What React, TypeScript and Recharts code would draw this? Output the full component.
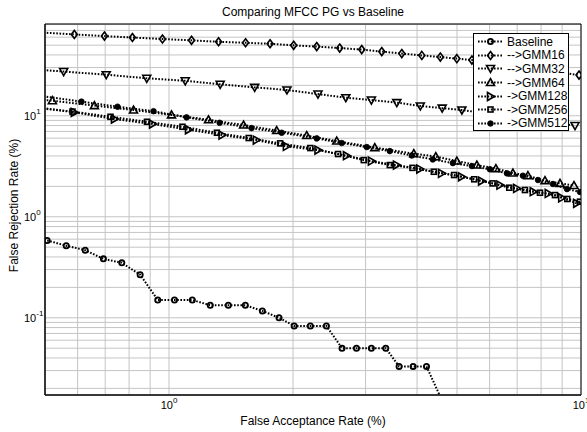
import { LineChart, Line, XAxis, YAxis, CartesianGrid, Legend, ReferenceArea, Label } from 'recharts';

const FONT = '"Liberation Sans", Arial, Helvetica, sans-serif';

const X_DOMAIN: [number, number] = [0.5, 10];
const Y_DOMAIN: [number, number] = [0.0172, 81];

const xTicks = [0.5, 0.6, 0.7, 0.8, 0.9, 1, 2, 3, 4, 5, 6, 7, 8, 9, 10];
const yTicks = [
    0.02, 0.03, 0.04, 0.05, 0.06, 0.07, 0.08, 0.09,
    0.1, 0.2, 0.3, 0.4, 0.5, 0.6, 0.7, 0.8, 0.9,
    1, 2, 3, 4, 5, 6, 7, 8, 9,
    10, 20, 30, 40, 50, 60, 70, 80,
];

// false acceptance (x) / false rejection (y), in %
const baselineFar = [0.506, 0.563, 0.626, 0.693, 0.768, 0.851, 0.939, 1.031, 1.139, 1.259, 1.393, 1.532, 1.685, 1.849, 2.013, 2.203, 2.41, 2.63, 2.851, 3.099, 3.358, 3.618, 3.913, 4.217, 4.55];
const baselineFrr = [0.583, 0.517, 0.467, 0.383, 0.35, 0.267, 0.15, 0.15, 0.15, 0.133, 0.133, 0.133, 0.117, 0.1, 0.083, 0.083, 0.083, 0.05, 0.05, 0.05, 0.05, 0.033, 0.033, 0.033, 0.0167];

const gmm16Far = [0.47, 0.589, 0.697, 0.815, 0.964, 1.134, 1.319, 1.534, 1.759, 2.007, 2.283, 2.596, 2.936, 3.284, 3.673, 4.108, 4.556, 4.996, 5.435, 9.89];
const gmm16Frr = [67.4, 63.9, 61.5, 59.5, 57.5, 55.8, 54.0, 52.8, 51.6, 49.8, 48.4, 46.8, 45.2, 43.2, 41.3, 39.6, 38.1, 36.8, 35.6, 25.3];

const gmm32Far = [0.47, 0.555, 0.704, 0.883, 1.095, 1.331, 1.614, 1.933, 2.299, 2.686, 3.099, 3.572, 4.074, 4.603, 5.139, 9.67];
const gmm32Frr = [28.8, 27.4, 25.5, 23.5, 22.2, 20.5, 19.1, 18.0, 16.4, 15.1, 14.3, 13.5, 12.5, 11.9, 11.4, 8.0];

const gmm64Far = [0.47, 0.521, 0.659, 0.82, 1.014, 1.247, 1.517, 1.825, 2.159, 2.553, 3.158, 3.928, 4.442, 4.996, 5.588, 6.215, 6.834, 7.433, 8.177, 8.892, 9.616];
const gmm64Frr = [14.6, 14.1, 12.6, 11.4, 10.2, 9.13, 8.09, 7.14, 6.37, 5.62, 4.84, 4.22, 3.94, 3.56, 3.25, 3.0, 2.71, 2.55, 2.28, 2.14, 2.04];

const gmm128Far = [0.47, 0.589, 0.737, 0.912, 1.115, 1.345, 1.629, 1.927, 2.299, 2.696, 3.099, 3.566, 4.062, 4.586, 5.13, 5.737, 6.357, 6.979, 7.657, 8.327, 8.978, 9.761];
const gmm128Frr = [12.3, 10.8, 9.28, 8.28, 7.27, 6.44, 5.75, 4.98, 4.58, 4.02, 3.56, 3.25, 2.97, 2.69, 2.49, 2.26, 2.06, 1.91, 1.77, 1.7, 1.54, 1.36];

const gmm256Far = [0.47, 0.583, 0.721, 0.884, 1.078, 1.307, 1.561, 1.861, 2.203, 2.572, 2.97, 3.435, 3.899, 4.393, 4.92, 5.506, 6.101, 6.696, 7.311, 7.951, 8.646, 9.262, 9.945];
const gmm256Frr = [12.0, 11.0, 9.77, 8.72, 7.78, 6.79, 6.02, 5.33, 4.79, 4.18, 3.64, 3.25, 3.05, 2.79, 2.59, 2.35, 2.14, 1.94, 1.84, 1.73, 1.64, 1.5, 1.41];

const gmm512Far = [0.47, 0.613, 0.75, 0.917, 1.103, 1.327, 1.586, 1.877, 2.283, 2.626, 3.02, 3.435, 3.885, 4.368, 4.886, 5.435, 6.01, 6.61, 7.23, 7.864, 8.551, 9.248, 9.945];
const gmm512Frr = [16.1, 13.8, 12.3, 11.1, 9.64, 8.52, 7.55, 6.79, 5.97, 5.37, 4.9, 4.47, 4.04, 3.7, 3.4, 3.18, 2.95, 2.69, 2.55, 2.31, 2.11, 1.88, 1.76];

type MarkerKind = 'circle' | 'diamond' | 'down' | 'up' | 'right' | 'square' | 'dot';

const toPoints = (far: number[], frr: number[]) => far.map((x, i) => ({ x, y: frr[i] }));

const series: { name: string; kind: MarkerKind; data: { x: number; y: number }[] }[] = [
    { name: 'Baseline', kind: 'circle', data: toPoints(baselineFar, baselineFrr) },
    { name: '-->GMM16', kind: 'diamond', data: toPoints(gmm16Far, gmm16Frr) },
    { name: '-->GMM32', kind: 'down', data: toPoints(gmm32Far, gmm32Frr) },
    { name: '-->GMM64', kind: 'up', data: toPoints(gmm64Far, gmm64Frr) },
    { name: '->GMM128', kind: 'right', data: toPoints(gmm128Far, gmm128Frr) },
    { name: '->GMM256', kind: 'square', data: toPoints(gmm256Far, gmm256Frr) },
    { name: '->GMM512', kind: 'dot', data: toPoints(gmm512Far, gmm512Frr) },
];

const Marker = ({ kind, cx, cy }: { kind: MarkerKind; cx: number; cy: number }) => {
    const st = { stroke: '#000', strokeWidth: 1.6, fill: 'none' };
    switch (kind) {
        case 'circle':
            return <circle cx={cx} cy={cy} r={2.6} {...st} strokeWidth={1.8} />;
        case 'diamond':
            return <polygon points={`${cx},${cy - 4} ${cx + 3},${cy} ${cx},${cy + 4} ${cx - 3},${cy}`} {...st} />;
        case 'down':
            return <polygon points={`${cx - 4},${cy - 3} ${cx + 4},${cy - 3} ${cx},${cy + 4}`} {...st} />;
        case 'up':
            return <polygon points={`${cx - 4},${cy + 3} ${cx + 4},${cy + 3} ${cx},${cy - 4}`} {...st} />;
        case 'right':
            return <polygon points={`${cx - 3},${cy - 4} ${cx - 3},${cy + 4} ${cx + 4},${cy}`} {...st} />;
        case 'square':
            return <rect x={cx - 2.5} y={cy - 2.5} width={5} height={5} {...st} />;
        default:
            return <circle cx={cx} cy={cy} r={2.8} fill="#000" stroke="#000" strokeWidth={0.8} />;
    }
};

// matlab style: markers of points outside the axes are not drawn
const makeDot = (kind: MarkerKind) => (props: any) => {
    const { cx, cy, payload, index } = props;
    const k = `${kind}-${index}`;
    if (cx == null || cy == null || payload.x < X_DOMAIN[0] || payload.x > X_DOMAIN[1] || payload.y < Y_DOMAIN[0] || payload.y > Y_DOMAIN[1]) {
        return <g key={k} />;
    }
    return (
        <g key={k}>
            <Marker kind={kind} cx={cx} cy={cy} />
        </g>
    );
};

const isDecade = (v: number) => Math.abs(Math.log10(v) - Math.round(Math.log10(v))) < 1e-9;

const XTick = ({ x, y, payload }: any) => {
    if (!isDecade(payload.value)) return <g />;
    const exp = Math.round(Math.log10(payload.value));
    return (
        <text x={x} y={y + 6} textAnchor="middle" fontFamily={FONT} fontSize={11} fill="#000">
            <tspan>10</tspan>
            <tspan dy={-6} fontSize={8}>{exp}</tspan>
        </text>
    );
};

const YTick = ({ x, y, payload }: any) => {
    if (!isDecade(payload.value)) return <g />;
    const exp = Math.round(Math.log10(payload.value));
    return (
        <text x={x - 13} y={y + 4} textAnchor="start" fontFamily={FONT} fontSize={11} fill="#000">
            <tspan>10</tspan>
            <tspan dy={-6} fontSize={8}>{exp < 0 ? `-${-exp}` : exp}</tspan>
        </text>
    );
};

const LegendBox = () => (
    <div style={{ background: '#fff', border: '1px solid #000', padding: '1px 4px 0 4px', width: 96, boxSizing: 'border-box' }}>
        {series.map(s => (
            <div key={s.name} style={{ display: 'flex', alignItems: 'center', height: 13.6, fontFamily: FONT, fontSize: 12, color: '#000', whiteSpace: 'nowrap' }}>
                <svg width={29} height={13} style={{ flex: 'none' }}>
                    <line x1={0} y1={6.5} x2={25} y2={6.5} stroke="#000" strokeWidth={2} strokeDasharray="1.6 1.6" />
                    <Marker kind={s.kind} cx={12.5} cy={6.5} />
                </svg>
                <span>{s.name}</span>
            </div>
        ))}
    </div>
);

const App = () => {
    return (
        <div style={{ position: 'absolute', left: 0, top: 0, width: 587, height: 432, background: '#fff' }}>
            <div style={{ position: 'absolute', left: 45, top: 5, width: 536, textAlign: 'center', fontFamily: FONT, fontSize: 12, lineHeight: '14px', color: '#000' }}>
                Comparing MFCC PG vs Baseline
            </div>
            <LineChart width={587} height={432} margin={{ top: 24, right: 6, bottom: 0, left: 0 }}>
                <CartesianGrid stroke="#c4c4c4" strokeWidth={1} />
                <XAxis
                    dataKey="x"
                    type="number"
                    scale="log"
                    domain={X_DOMAIN}
                    ticks={xTicks}
                    interval={0}
                    allowDataOverflow
                    height={37}
                    tickLine={false}
                    axisLine={{ stroke: '#000' }}
                    tick={<XTick />}
                >
                    <Label
                        content={(p: any) => {
                            const vb = p.viewBox;
                            return (
                                <text x={vb.x + vb.width / 2} y={vb.y + vb.height - 7} textAnchor="middle" fontFamily={FONT} fontSize={12} fill="#000">
                                    False Acceptance Rate (%)
                                </text>
                            );
                        }}
                    />
                </XAxis>
                <YAxis
                    dataKey="y"
                    type="number"
                    scale="log"
                    domain={Y_DOMAIN}
                    ticks={yTicks}
                    interval={0}
                    allowDataOverflow
                    width={45}
                    tickLine={false}
                    axisLine={{ stroke: '#000' }}
                    tick={<YTick />}
                >
                    <Label
                        content={(p: any) => {
                            const vb = p.viewBox;
                            const cx = vb.x + 14;
                            const cy = vb.y + vb.height / 2 - 4;
                            return (
                                <text x={cx} y={cy} transform={`rotate(-90 ${cx} ${cy})`} textAnchor="middle" dominantBaseline="central" fontFamily={FONT} fontSize={12} fill="#000">
                                    False Rejection Rate (%)
                                </text>
                            );
                        }}
                    />
                </YAxis>
                <ReferenceArea x1={X_DOMAIN[0]} x2={X_DOMAIN[1]} y1={Y_DOMAIN[0]} y2={Y_DOMAIN[1]} fill="none" stroke="#000" strokeWidth={1} ifOverflow="visible" />
                {series.map(s => (
                    <Line
                        key={s.name}
                        data={s.data}
                        dataKey="y"
                        name={s.name}
                        type="linear"
                        stroke="#000"
                        strokeWidth={2}
                        strokeDasharray="1.6 1.6"
                        dot={makeDot(s.kind)}
                        activeDot={false}
                        isAnimationActive={false}
                    />
                ))}
                <Legend
                    layout="vertical"
                    align="center"
                    verticalAlign="middle"
                    content={<LegendBox />}
                    wrapperStyle={{ left: 473, top: 33, width: 'auto', height: 'auto' }}
                />
            </LineChart>
        </div>
    );
};

export default App;
